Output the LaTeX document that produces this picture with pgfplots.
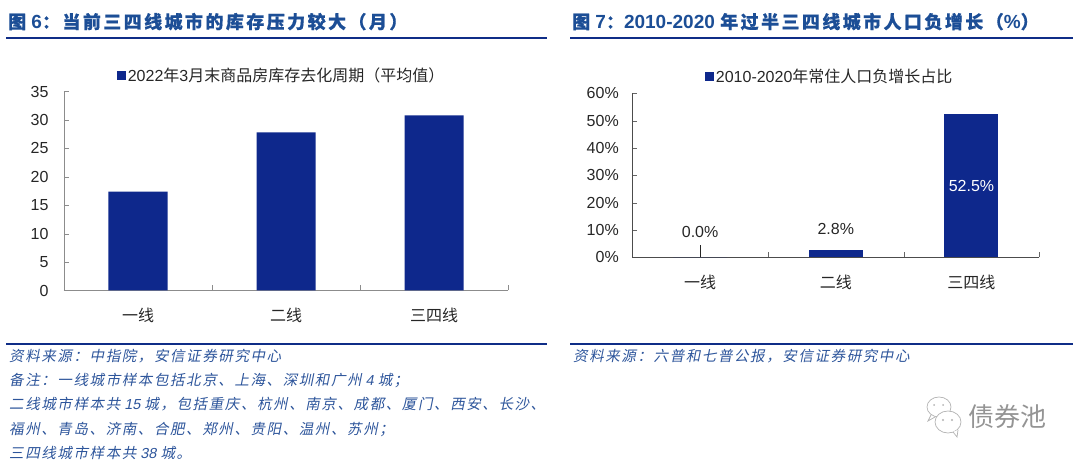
\documentclass[border=0pt]{standalone}
\usepackage{fontspec}
\setmainfont{Liberation Sans}
\newfontfamily\zh{Noto Sans CJK SC}
\newfontfamily\zhtitle[LetterSpace=13.5,FakeBold=0.6]{Noto Sans CJK SC}
\newfontfamily\zhnote[FakeSlant=0.2,LetterSpace=11]{Noto Sans CJK SC}
\newfontfamily\lanote[FakeSlant=0.2]{Liberation Sans}
\usepackage{pgfplots}
\pgfplotsset{compat=1.18}
\definecolor{barblue}{RGB}{14,40,140}
\definecolor{titleblue}{RGB}{28,78,150}
\definecolor{noteblue}{RGB}{45,85,155}
\definecolor{rule}{RGB}{15,45,135}
% full-width punctuation
\def\fcolon{^^^^ff1a}
\def\fcomma{^^^^ff0c}
\def\fsemi{^^^^ff1b}
\def\fopen{^^^^ff08}
\def\fclose{^^^^ff09}
\newcommand{\ttl}[1]{{\fontsize{18}{18}\selectfont\zhtitle #1}}
\pgfplotsset{
  panel/.style={
    scale only axis, axis lines=left, axis line style={-},
    ymin=0, xmin=-0.5, xmax=2.5,
    xtick={-0.5,0.5,1.5,2.5}, xticklabels={},
    extra x ticks={0,1,2}, extra x tick labels={{\zh 一线},{\zh 二线},{\zh 三四线}},
    extra x tick style={tick style={draw=none}},
    major tick length=5pt,
    tick align=inside,
    x tick label style={font=\fontsize{16}{16}\selectfont, text=black!85, yshift=-14pt},
    y tick label style={font=\fontsize{16}{16}\selectfont, text=black!85, xshift=-10pt},
    /pgf/number format/assume math mode=true,
    xtick pos=bottom, ytick pos=left,
    legend style={draw=none, fill=none, font=\fontsize{16}{16}\selectfont,
      inner sep=0pt, text=black!85},
    legend image code/.code={\fill[barblue] (0cm,-4.5pt) rectangle (9pt,4.5pt);},
    clip=false,
  },
  lab/.style={
    nodes near coords={\pgfmathprintnumber[fixed,fixed zerofill,precision=1]{\pgfplotspointmeta}\%},
    nodes near coords style={anchor=center, text=#1, font=\fontsize{16}{16}\selectfont},
  },
}
\begin{document}
\begin{tikzpicture}[x=1pt,y=1pt]
\path[use as bounding box] (0,0) rectangle (1080,465);

% left panel
\node[anchor=base west,inner sep=0pt,text=titleblue,font=\fontsize{19}{19}\selectfont\bfseries] at (8,436.5)
  {\ttl{图} 6\ttl{\fcolon 当前三四线城市的库存压力较大\fopen 月\fclose}};
\draw[rule,line width=1.1pt] (6,427) -- (547,427);
\begin{axis}[panel, at={(64pt,174.5pt)}, anchor=south west, width=444pt, height=199pt,
    axis line style={black!45}, tick style={black!45},
    y tick label style={xshift=-2pt},
    ymax=35, ytick={0,5,...,35},
    legend style={at={(0.49,1.08)}, anchor=center}]
  \addplot[ybar, bar width=59pt, fill=barblue, draw=none, bar shift=0pt] coordinates {
    (0,17.4) (1,27.8) (2,30.8)};
  \legend{{2022{\zh 年}3{\zh 月末商品房库存去化周期\fopen 平均值\fclose}}}
\end{axis}
\draw[rule,line width=1.1pt] (6,121) -- (547,121);
\begin{scope}[every node/.style={anchor=base west,inner sep=0pt,text=noteblue,font=\fontsize{14.5}{15}\selectfont\lanote}]
\node at (9,103) {{\zhnote 资料来源\fcolon 中指院\fcomma 安信证券研究中心}};
\node at (9,79.5) {{\zhnote 备注\fcolon 一线城市样本包括北京、上海、深圳和广州} 4 {\zhnote 城\fsemi}};
\node at (9,55) {{\zhnote 二线城市样本共} 15 {\zhnote 城\fcomma 包括重庆、杭州、南京、成都、厦门、西安、长沙、}};
\node at (9,30.5) {{\zhnote 福州、青岛、济南、合肥、郑州、贵阳、温州、苏州\fsemi}};
\node at (9,6.5) {{\zhnote 三四线城市样本共} 38 {\zhnote 城。}};
\end{scope}

% right panel
\node[anchor=base west,inner sep=0pt,text=titleblue,font=\fontsize{19}{19}\selectfont\bfseries] at (572,436.5)
  {\ttl{图} 7\ttl{\fcolon}2010-2020 \ttl{年过半三四线城市人口负增长\fopen}\%\ttl{\fclose}};
\draw[rule,line width=1.1pt] (570,427) -- (1073,427);
\begin{axis}[panel, at={(632.3pt,207.7pt)}, anchor=south west, width=407pt, height=164pt,
    axis line style={black!70}, tick style={black!60},
    ymax=60, ytick={0,10,...,60}, yticklabel={\pgfmathprintnumber{\tick}\%},
    legend style={at={(0.485,1.10)}, anchor=center}]
  \addplot[ybar, bar width=54pt, fill=barblue, draw=none, bar shift=0pt,
    lab=white, every node near coord/.append style={yshift=-72pt}] coordinates {(2,52.5)};
  \addplot[ybar, bar width=54pt, fill=barblue, draw=none, bar shift=0pt, forget plot,
    lab=black!85, every node near coord/.append style={yshift=21pt}] coordinates {(1,2.8)};
  \addplot[ybar, bar width=54pt, fill=barblue, draw=none, bar shift=0pt, forget plot,
    lab=black!85, every node near coord/.append style={yshift=25pt}] coordinates {(0,0.0)};
  % leader line of the zero label
  \addplot[black!85, line width=0.9pt, forget plot] coordinates {(0,0) (0,4.4)};
  \legend{{2010-2020{\zh 年常住人口负增长占比}}}
\end{axis}
\draw[rule,line width=1.1pt] (570,121) -- (1073,121);
\node[anchor=base west,inner sep=0pt,text=noteblue,font=\fontsize{14.5}{15}\selectfont\lanote] at (573,103)
  {{\zhnote 资料来源\fcolon 六普和七普公报\fcomma 安信证券研究中心}};

% watermark
\begin{scope}[draw=black!30,line width=0.7pt,fill=white]
\draw (939,58) ellipse (12pt and 10pt);
\draw (931,50) -- (928,44) -- (935,48);
\filldraw (948,43) ellipse (13pt and 11pt);
\filldraw (953,33) -- (957,28) -- (958,35);
\fill[black!30] (943,45) circle (1.2pt) (952,45) circle (1.2pt) (934,60) circle (1pt) (943,60) circle (1pt);
\end{scope}
\node[anchor=base west,inner sep=0pt,text=black!42,font=\fontsize{26}{26}\selectfont\zh] at (968,38) {债券池};
\end{tikzpicture}
\end{document}
